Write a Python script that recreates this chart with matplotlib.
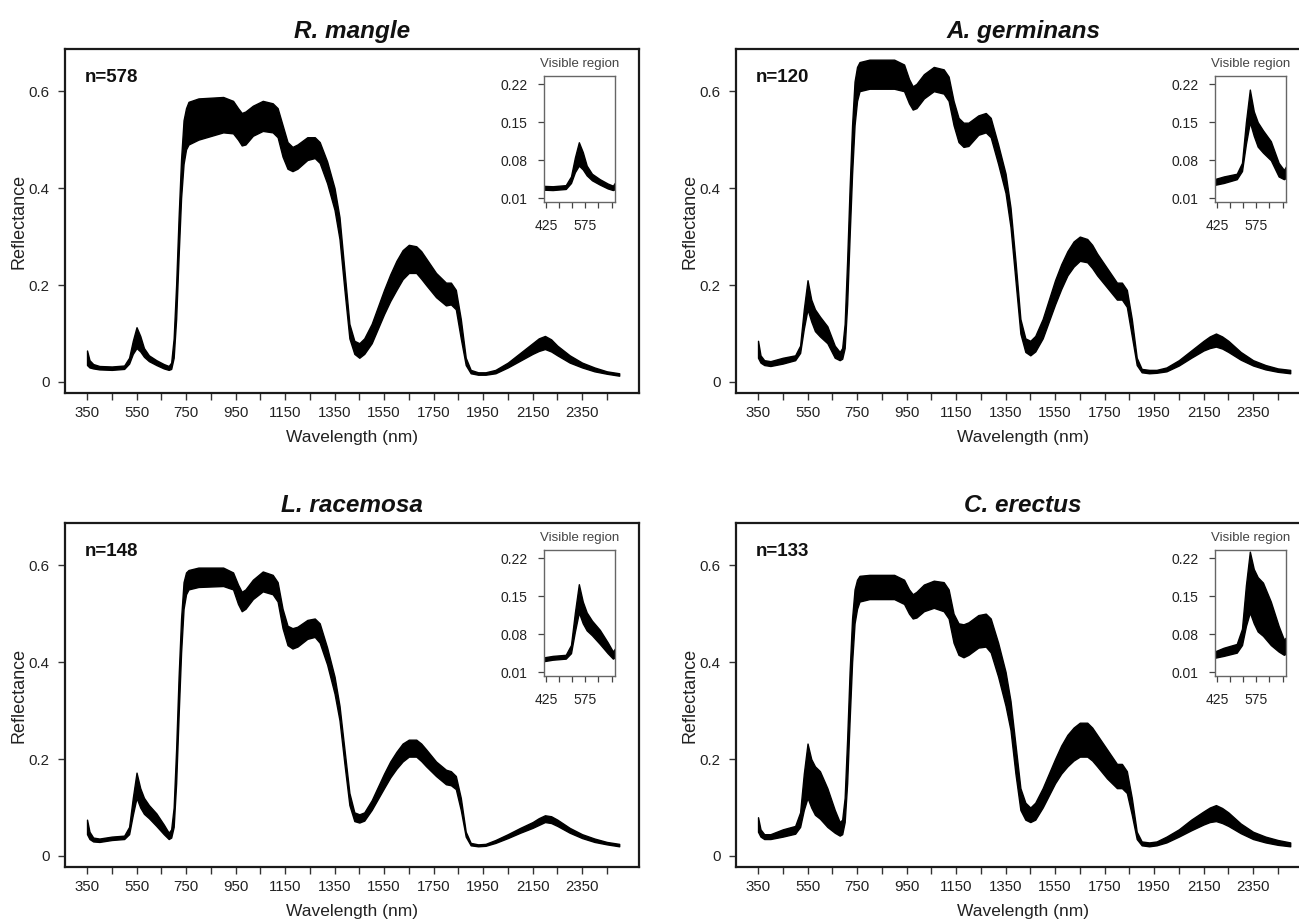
import matplotlib
matplotlib.use("Agg")
import matplotlib.pyplot as plt

plt.rcParams['font.family'] = ['Liberation Sans', 'DejaVu Sans']

# ---------------------------------------------------------------- data
wavelength = [
    350, 360, 375, 400, 450, 500, 520, 535, 550, 565, 580, 600, 630, 660,
    680, 690, 700, 710, 720, 730, 740, 750, 760, 800, 900, 940, 960, 975,
    990, 1020, 1060, 1100, 1120, 1140, 1160, 1180, 1200, 1240, 1270, 1290,
    1320, 1350, 1370, 1390, 1410, 1430, 1450, 1470, 1500, 1550, 1575, 1600, 1625, 1650,
    1680, 1700, 1720, 1760, 1800, 1820, 1840, 1860, 1880, 1900, 1930, 1960, 2000,
    2050, 2100, 2150, 2175, 2200, 2225, 2250, 2300, 2350, 2400, 2450, 2500]

species = ["R. mangle", "A. germinans", "L. racemosa", "C. erectus"]
sample_sizes = [578, 120, 148, 133]

rm_upper = [
    .065, .045, .037, .033, .032, .034, .050, .085, .113, .095, .070, .055, .045, .037,
    .033, .040, .090, .200, .340, .460, .540, .565, .578, .585, .588, .580, .565, .555,
    .558, .570, .580, .575, .565, .530, .495, .485, .490, .505, .505, .495,
    .455, .400, .340, .230, .120, .085, .080, .090, .120, .190, .222, .250, .272, .283,
    .280, .270, .255, .225, .205, .205, .190, .130, .050, .025, .020, .020, .025,
    .040, .060, .080, .090, .095, .088, .075, .055, .040, .030, .022, .018]
rm_lower = [
    .035, .030, .028, .026, .025, .027, .038, .058, .070, .063, .052, .043, .035, .028,
    .025, .027, .050, .130, .260, .380, .450, .480, .490, .500, .515, .513, .500, .488,
    .490, .508, .518, .515, .505, .465, .440, .435, .440, .458, .462, .452,
    .410, .355, .295, .190, .090, .058, .050, .058, .080, .140, .167, .190, .212, .225,
    .225, .213, .200, .175, .158, .160, .150, .090, .035, .018, .015, .015, .018,
    .030, .044, .058, .064, .068, .063, .055, .040, .030, .022, .017, .013]

ag_upper = [
    .085, .055, .045, .043, .050, .055, .075, .150, .210, .170, .150, .135, .115, .075,
    .062, .070, .120, .250, .400, .530, .620, .650, .660, .665, .665, .655, .625, .610,
    .615, .635, .650, .645, .630, .580, .545, .535, .535, .550, .555, .545,
    .490, .430, .360, .250, .130, .090, .085, .095, .130, .210, .243, .270, .290, .300,
    .295, .283, .265, .235, .205, .205, .190, .130, .050, .027, .025, .025, .030,
    .045, .065, .085, .094, .100, .094, .085, .062, .045, .035, .028, .025]
ag_lower = [
    .050, .040, .035, .033, .038, .045, .060, .110, .150, .125, .105, .094, .080, .050,
    .045, .048, .070, .160, .300, .430, .530, .580, .600, .605, .605, .600, .575, .562,
    .565, .585, .600, .595, .580, .530, .495, .485, .487, .510, .515, .505,
    .450, .390, .320, .210, .100, .062, .055, .063, .090, .160, .192, .220, .238, .250,
    .247, .235, .220, .195, .170, .170, .155, .095, .035, .020, .018, .019, .022,
    .034, .050, .065, .070, .073, .069, .062, .046, .034, .026, .021, .018]

lr_upper = [
    .075, .050, .038, .036, .040, .042, .060, .120, .172, .140, .120, .105, .088, .065,
    .048, .055, .100, .220, .370, .490, .565, .585, .590, .595, .595, .585, .560, .545,
    .550, .570, .587, .580, .565, .510, .475, .470, .473, .487, .490, .480,
    .430, .370, .310, .220, .130, .090, .086, .090, .115, .170, .195, .215, .232, .240,
    .240, .232, .220, .195, .178, .175, .165, .120, .050, .027, .024, .025, .033,
    .045, .058, .070, .078, .084, .082, .075, .058, .045, .036, .029, .025]
lr_lower = [
    .045, .035, .030, .029, .033, .035, .045, .085, .120, .100, .087, .078, .062, .045,
    .035, .038, .060, .150, .290, .420, .510, .540, .550, .555, .557, .550, .520, .505,
    .510, .530, .546, .540, .525, .470, .435, .428, .432, .448, .452, .440,
    .395, .335, .280, .190, .105, .072, .069, .073, .095, .140, .162, .180, .195, .205,
    .205, .196, .185, .165, .148, .146, .138, .095, .040, .022, .020, .021, .027,
    .037, .048, .058, .064, .070, .068, .062, .048, .037, .029, .024, .020]

ce_upper = [
    .080, .055, .045, .045, .055, .062, .090, .170, .232, .200, .185, .175, .140, .095,
    .070, .075, .120, .240, .380, .490, .550, .570, .578, .580, .580, .570, .550, .540,
    .545, .560, .568, .565, .550, .500, .480, .478, .482, .497, .500, .490,
    .440, .380, .320, .230, .140, .110, .100, .110, .140, .200, .228, .250, .265, .275,
    .275, .265, .250, .220, .190, .190, .175, .120, .050, .030, .028, .030, .040,
    .055, .075, .092, .100, .105, .099, .090, .067, .050, .040, .033, .028]
ce_lower = [
    .050, .040, .035, .035, .040, .046, .060, .095, .120, .100, .085, .077, .060, .048,
    .042, .045, .070, .150, .280, .400, .480, .510, .525, .530, .530, .520, .500, .490,
    .492, .505, .512, .505, .490, .440, .415, .410, .415, .430, .432, .420,
    .370, .310, .260, .170, .095, .075, .070, .075, .100, .150, .170, .185, .197, .205,
    .205, .197, .185, .160, .140, .140, .130, .085, .035, .022, .020, .022, .028,
    .040, .053, .065, .070, .072, .068, .062, .047, .035, .028, .023, .020]

uppers = [rm_upper, ag_upper, lr_upper, ce_upper]
lowers = [rm_lower, ag_lower, lr_lower, ce_lower]

main_xticks = list(range(350, 2451, 100))
main_xlabels = [str(t) if (t - 350) % 200 == 0 else "" for t in main_xticks]
main_yticks = [0, 0.2, 0.4, 0.6]
main_ylabels = ["0", "0.2", "0.4", "0.6"]
inset_xticks = [425, 475, 525, 575, 625, 675]
inset_xlabels = ["425", "", "", "575", "", ""]
inset_yticks = [0.01, 0.08, 0.15, 0.22]
inset_ylabels = ["0.01", "0.08", "0.15", "0.22"]

# ---------------------------------------------------------------- layout
W, H = 1299, 923
fig = plt.figure(figsize=(W / 100, H / 100), dpi=100)
fig.patch.set_facecolor("white")


def px_rect(left, top, right, bottom):
    return [left / W, 1 - bottom / H, (right - left) / W, (bottom - top) / H]


panel_origins = [(65, 49), (736, 49), (65, 523), (736, 523)]
PW, PH = 574, 344
TEXT = "#222222"

for i, (x0, y0) in enumerate(panel_origins):
    ax = fig.add_axes(px_rect(x0, y0, x0 + PW, y0 + PH))
    ax.fill_between(wavelength, lowers[i], uppers[i], color="black",
                    edgecolor="black", linewidth=1.0)
    ax.set_xlim(261, 2580)
    ax.set_ylim(-0.0227, 0.687)
    ax.set_xticks(main_xticks)
    ax.set_xticklabels(main_xlabels)
    ax.set_yticks(main_yticks)
    ax.set_yticklabels(main_ylabels)
    ax.tick_params(direction="out", length=5, width=1.0, color="#333333",
                   labelsize=10.8, labelcolor=TEXT)
    ax.tick_params(axis="y", pad=6)
    ax.tick_params(axis="x", pad=4.5)
    for sp in ax.spines.values():
        sp.set_linewidth(1.6)
        sp.set_color("#1a1a1a")
    ax.set_ylabel("Reflectance", fontsize=13, color=TEXT)
    ax.yaxis.set_label_coords(-0.066, 0.5)
    ax.set_xlabel("Wavelength (nm)", fontsize=12.5, color=TEXT)
    ax.xaxis.set_label_coords(0.5, -0.108)
    ax.text(0.5, 1 + 11 / PH, species[i], transform=ax.transAxes,
            ha="center", va="baseline", fontsize=17.5, fontweight="bold",
            fontstyle="italic", color="#111111")
    ax.text(20 / PW, 1 - 29 / PH, f"n={sample_sizes[i]}", transform=ax.transAxes,
            ha="left", va="center", fontsize=13.5, fontweight="bold",
            color="#111111")

    # visible-region inset
    ix0, iy0 = x0 + 479, y0 + 27
    ins = fig.add_axes(px_rect(ix0, iy0, ix0 + 71, iy0 + 126))
    ins.fill_between(wavelength, lowers[i], uppers[i], color="black",
                     edgecolor="black", linewidth=1.0)
    ins.set_xlim(417, 688)
    ins.set_ylim(0.003, 0.235)
    ins.set_xticks(inset_xticks)
    ins.set_xticklabels(inset_xlabels)
    ins.set_yticks(inset_yticks)
    ins.set_yticklabels(inset_ylabels)
    ins.tick_params(direction="out", length=4.5, width=0.9, color="#444444",
                    labelsize=10, labelcolor=TEXT)
    ins.tick_params(axis="y", pad=7.5)
    ins.tick_params(axis="x", pad=8)
    for sp in ins.spines.values():
        sp.set_linewidth(1.0)
        sp.set_color("#666666")
    ins.text(0.5, 1 + 9 / 126, "Visible region", transform=ins.transAxes,
             ha="center", va="baseline", fontsize=9.5, color="#444444")

fig.savefig("out.png", dpi=100, facecolor="white")
